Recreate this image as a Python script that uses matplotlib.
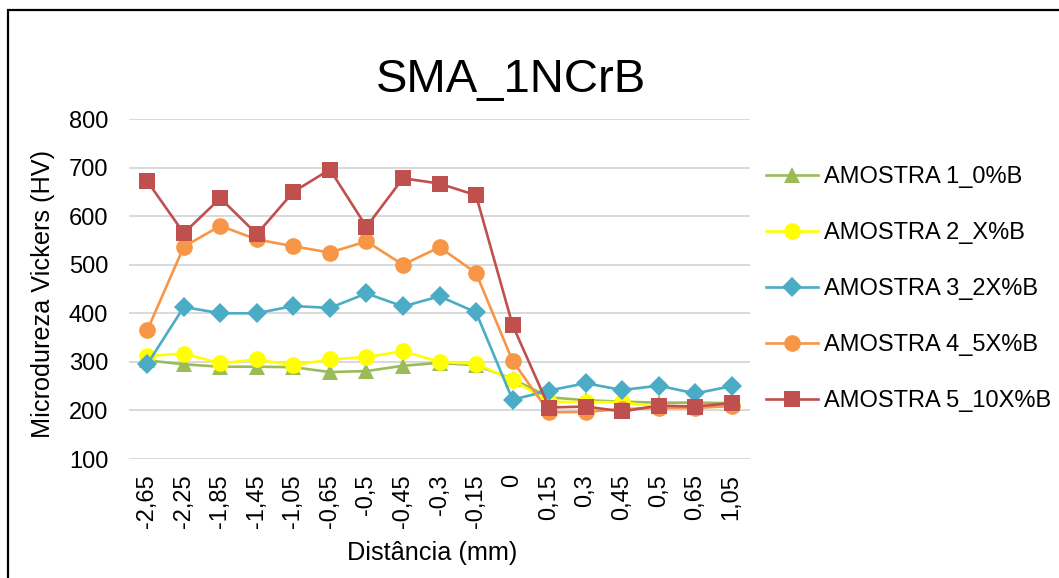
import matplotlib
matplotlib.use("Agg")
import matplotlib.pyplot as plt
from matplotlib.patches import Rectangle

plt.rcParams['font.family'] = ['Liberation Sans', 'DejaVu Sans']

# Distance categories (mm) and hardness series (HV)
distancias = ["-2,65", "-2,25", "-1,85", "-1,45", "-1,05", "-0,65", "-0,5", "-0,45",
              "-0,3", "-0,15", "0", "0,15", "0,3", "0,45", "0,5", "0,65", "1,05"]

amostra1 = [303, 295, 290, 290, 289, 279, 281, 292, 298, 293, 265, 227, 221, 218, 216, 216, 215]
amostra2 = [312, 317, 297, 305, 293, 305, 310, 322, 300, 296, 263, 218, 217, 217, 207, 208, 212]
amostra3 = [295, 413, 400, 400, 415, 411, 441, 414, 435, 402, 222, 241, 256, 242, 251, 235, 250]
amostra4 = [365, 537, 580, 552, 538, 525, 548, 500, 536, 483, 302, 196, 197, 203, 205, 205, 209]
amostra5 = [672, 565, 637, 563, 650, 696, 578, 678, 667, 643, 376, 206, 208, 198, 210, 208, 215]

nomes = ["AMOSTRA 1_0%B", "AMOSTRA 2_X%B", "AMOSTRA 3_2X%B", "AMOSTRA 4_5X%B", "AMOSTRA 5_10X%B"]
series = [amostra1, amostra2, amostra3, amostra4, amostra5]
cores = ["#9BBB59", "#FFFF00", "#4BACC6", "#F79646", "#C0504D"]
marcadores = ["^", "o", "D", "o", "s"]
tamanhos = [12, 12, 10, 12, 11.5]

fig = plt.figure(figsize=(10.59, 5.78), dpi=100)
fig.patches.append(Rectangle((8 / 1059, -0.05), 1.2, 1 - 10 / 578 + 0.05,
                             transform=fig.transFigure, fill=False,
                             edgecolor="black", linewidth=1.6, zorder=0))

ax = fig.add_axes([129 / 1059, 1 - 459 / 578, 621 / 1059, 340 / 578])
x = list(range(len(distancias)))
for vals, nome, cor, mk, ms in zip(series, nomes, cores, marcadores, tamanhos):
    ax.plot(x, vals, color=cor, marker=mk, markersize=ms, linewidth=1.9,
            label=nome, markeredgewidth=0, clip_on=False)

ax.set_ylim(100, 800)
ax.set_xlim(-0.5, len(distancias) - 0.5)
ax.set_yticks(range(100, 801, 100))
ax.set_xticks(x)
ax.set_xticklabels(distancias, rotation=90)
ax.tick_params(axis="both", length=0, labelsize=17)
ax.tick_params(axis="y", pad=15)
ax.tick_params(axis="x", pad=11)
ax.grid(axis="y", color="#D9D9D9", linewidth=1.4)
ax.set_axisbelow(True)
for s in ax.spines.values():
    s.set_visible(False)

fig.text(511 / 1059, 1 - 92 / 578, "SMA_1NCrB", fontsize=34,
         ha="center", va="baseline")
ax.set_xlabel("Distância (mm)", fontsize=18.2, labelpad=9)
ax.xaxis.label.set_x((432 - 129) / 621)
ax.set_ylabel("Microdureza Vickers (HV)", fontsize=18.2, labelpad=10)
ax.yaxis.label.set_y((459 - 294) / 340)

ax.legend(loc="center left", bbox_to_anchor=(1.0103, 0.5), frameon=False,
          fontsize=17, handlelength=2.2, handletextpad=0.25, labelspacing=1.44,
          borderaxespad=0)

fig.savefig("out.png", dpi=100, facecolor="white")
